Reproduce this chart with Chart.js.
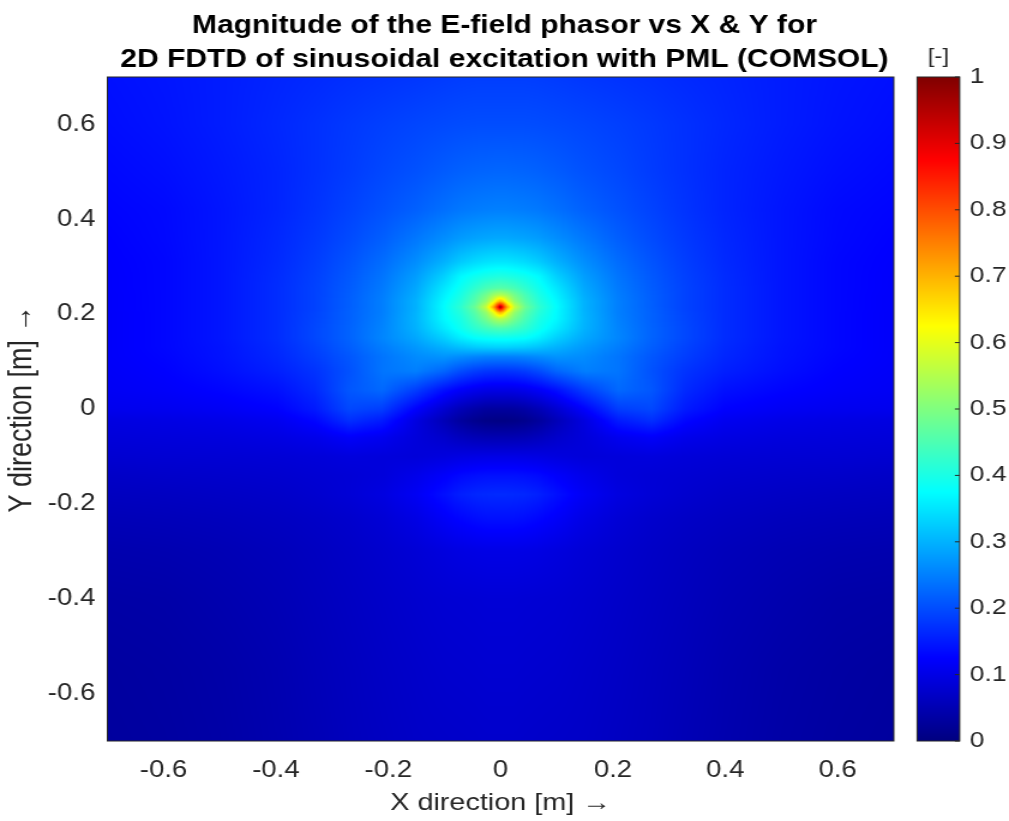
<!DOCTYPE html>
<html><head><meta charset="utf-8">
<script src="https://cdn.jsdelivr.net/npm/chart.js@4.4.1/dist/chart.umd.min.js"></script>
<style>
html,body{margin:0;padding:0;background:#fff;overflow:hidden}
#wrap{position:absolute;left:0;top:0;width:841px;height:821px;transform:scaleX(1.19976);transform-origin:0 0}
</style></head><body>
<div id="wrap"><canvas id="c"></canvas></div>
<script>
// grid node coordinates (m)
const xCoords = [-0.7,-0.6,-0.5,-0.4,-0.33,-0.27,-0.21,-0.15,-0.1,-0.07,-0.045,-0.025,-0.012,-0.005,0,0.005,0.012,0.025,0.045,0.07,0.1,0.15,0.21,0.27,0.33,0.4,0.5,0.6,0.7];
const yCoords = [0.7,0.6,0.5,0.42,0.36,0.31,0.28,0.255,0.24,0.227,0.22,0.215,0.21,0.203,0.19,0.17,0.15,0.13,0.11,0.08,0.04,0.0,-0.025,-0.06,-0.1,-0.14,-0.18,-0.23,-0.3,-0.4,-0.55,-0.7];
// |E| (normalised), one row per yCoords entry
const fieldRows = [
[0.14,0.145,0.152,0.16,0.165,0.17,0.174,0.178,0.182,0.184,0.185,0.185,0.185,0.185,0.185,0.185,0.185,0.185,0.185,0.184,0.182,0.178,0.174,0.17,0.165,0.16,0.152,0.145,0.14],
[0.137,0.143,0.152,0.163,0.172,0.18,0.187,0.193,0.197,0.199,0.2,0.2,0.2,0.2,0.2,0.2,0.2,0.2,0.2,0.199,0.197,0.193,0.187,0.18,0.172,0.163,0.152,0.143,0.137],
[0.132,0.138,0.148,0.16,0.172,0.183,0.195,0.205,0.215,0.22,0.223,0.224,0.225,0.225,0.225,0.225,0.225,0.224,0.223,0.22,0.215,0.205,0.195,0.183,0.172,0.16,0.148,0.138,0.132],
[0.128,0.133,0.145,0.16,0.175,0.19,0.205,0.22,0.235,0.243,0.247,0.249,0.25,0.25,0.25,0.25,0.25,0.249,0.247,0.243,0.235,0.22,0.205,0.19,0.175,0.16,0.145,0.133,0.128],
[0.125,0.132,0.145,0.163,0.18,0.198,0.218,0.243,0.265,0.278,0.285,0.288,0.29,0.29,0.29,0.29,0.29,0.288,0.285,0.278,0.265,0.243,0.218,0.198,0.18,0.163,0.145,0.132,0.125],
[0.123,0.13,0.145,0.165,0.185,0.207,0.232,0.265,0.3,0.325,0.34,0.347,0.35,0.35,0.35,0.35,0.35,0.347,0.34,0.325,0.3,0.265,0.232,0.207,0.185,0.165,0.145,0.13,0.123],
[0.122,0.13,0.145,0.167,0.188,0.212,0.24,0.28,0.33,0.37,0.388,0.398,0.402,0.404,0.405,0.404,0.402,0.398,0.388,0.37,0.33,0.28,0.24,0.212,0.188,0.167,0.145,0.13,0.122],
[0.122,0.13,0.145,0.168,0.19,0.215,0.245,0.29,0.352,0.388,0.42,0.445,0.455,0.458,0.46,0.458,0.455,0.445,0.42,0.388,0.352,0.29,0.245,0.215,0.19,0.168,0.145,0.13,0.122],
[0.121,0.13,0.145,0.168,0.19,0.217,0.248,0.295,0.362,0.4,0.445,0.49,0.53,0.545,0.55,0.545,0.53,0.49,0.445,0.4,0.362,0.295,0.248,0.217,0.19,0.168,0.145,0.13,0.121],
[0.121,0.13,0.145,0.168,0.19,0.218,0.25,0.3,0.37,0.41,0.46,0.52,0.6,0.67,0.7,0.67,0.6,0.52,0.46,0.41,0.37,0.3,0.25,0.218,0.19,0.168,0.145,0.13,0.121],
[0.121,0.13,0.145,0.168,0.19,0.218,0.25,0.3,0.373,0.415,0.47,0.55,0.67,0.79,0.85,0.79,0.67,0.55,0.47,0.415,0.373,0.3,0.25,0.218,0.19,0.168,0.145,0.13,0.121],
[0.121,0.13,0.145,0.168,0.19,0.218,0.25,0.3,0.375,0.42,0.48,0.57,0.72,0.85,1.0,0.85,0.72,0.57,0.48,0.42,0.375,0.3,0.25,0.218,0.19,0.168,0.145,0.13,0.121],
[0.121,0.13,0.145,0.168,0.19,0.219,0.25,0.3,0.373,0.415,0.47,0.55,0.67,0.79,0.85,0.79,0.67,0.55,0.47,0.415,0.373,0.3,0.25,0.219,0.19,0.168,0.145,0.13,0.121],
[0.12,0.13,0.145,0.168,0.192,0.22,0.25,0.302,0.372,0.41,0.46,0.52,0.6,0.67,0.7,0.67,0.6,0.52,0.46,0.41,0.372,0.302,0.25,0.22,0.192,0.168,0.145,0.13,0.12],
[0.12,0.13,0.145,0.168,0.193,0.22,0.252,0.303,0.37,0.4,0.445,0.49,0.53,0.545,0.55,0.545,0.53,0.49,0.445,0.4,0.37,0.303,0.252,0.22,0.193,0.168,0.145,0.13,0.12],
[0.12,0.13,0.145,0.168,0.195,0.222,0.255,0.3,0.355,0.388,0.418,0.437,0.447,0.45,0.45,0.45,0.447,0.437,0.418,0.388,0.355,0.3,0.255,0.222,0.195,0.168,0.145,0.13,0.12],
[0.12,0.13,0.145,0.168,0.195,0.222,0.257,0.29,0.33,0.36,0.378,0.383,0.385,0.385,0.385,0.385,0.385,0.383,0.378,0.36,0.33,0.29,0.257,0.222,0.195,0.168,0.145,0.13,0.12],
[0.12,0.13,0.143,0.165,0.19,0.217,0.248,0.275,0.3,0.315,0.325,0.328,0.33,0.33,0.33,0.33,0.33,0.328,0.325,0.315,0.3,0.275,0.248,0.217,0.19,0.165,0.143,0.13,0.12],
[0.12,0.128,0.142,0.162,0.185,0.21,0.24,0.262,0.27,0.262,0.255,0.251,0.25,0.25,0.25,0.25,0.25,0.251,0.255,0.262,0.27,0.262,0.24,0.21,0.185,0.162,0.142,0.128,0.12],
[0.118,0.125,0.138,0.155,0.175,0.205,0.24,0.25,0.225,0.2,0.185,0.178,0.176,0.175,0.175,0.175,0.176,0.178,0.185,0.2,0.225,0.25,0.24,0.205,0.175,0.155,0.138,0.125,0.118],
[0.115,0.12,0.128,0.14,0.165,0.21,0.228,0.185,0.14,0.12,0.108,0.102,0.1,0.1,0.1,0.1,0.1,0.102,0.108,0.12,0.14,0.185,0.228,0.21,0.165,0.14,0.128,0.12,0.115],
[0.108,0.11,0.115,0.125,0.15,0.195,0.185,0.125,0.08,0.055,0.04,0.032,0.03,0.03,0.03,0.03,0.03,0.032,0.04,0.055,0.08,0.125,0.185,0.195,0.15,0.125,0.115,0.11,0.108],
[0.095,0.098,0.102,0.11,0.13,0.17,0.15,0.095,0.055,0.03,0.015,0.008,0.006,0.005,0.005,0.005,0.006,0.008,0.015,0.03,0.055,0.095,0.15,0.17,0.13,0.11,0.102,0.098,0.095],
[0.088,0.09,0.092,0.097,0.105,0.12,0.11,0.09,0.075,0.062,0.054,0.051,0.05,0.05,0.05,0.05,0.05,0.051,0.054,0.062,0.075,0.09,0.11,0.12,0.105,0.097,0.092,0.09,0.088],
[0.08,0.082,0.083,0.085,0.088,0.092,0.09,0.088,0.093,0.097,0.099,0.1,0.1,0.1,0.1,0.1,0.1,0.1,0.099,0.097,0.093,0.088,0.09,0.092,0.088,0.085,0.083,0.082,0.08],
[0.07,0.073,0.075,0.078,0.082,0.085,0.09,0.105,0.122,0.133,0.138,0.14,0.14,0.14,0.14,0.14,0.14,0.14,0.138,0.133,0.122,0.105,0.09,0.085,0.082,0.078,0.075,0.073,0.07],
[0.063,0.065,0.068,0.072,0.078,0.085,0.095,0.115,0.14,0.155,0.162,0.164,0.165,0.165,0.165,0.165,0.165,0.164,0.162,0.155,0.14,0.115,0.095,0.085,0.078,0.072,0.068,0.065,0.063],
[0.055,0.057,0.06,0.065,0.07,0.076,0.085,0.1,0.12,0.13,0.137,0.14,0.14,0.14,0.14,0.14,0.14,0.14,0.137,0.13,0.12,0.1,0.085,0.076,0.07,0.065,0.06,0.057,0.055],
[0.046,0.048,0.052,0.058,0.064,0.07,0.077,0.085,0.093,0.097,0.099,0.1,0.1,0.1,0.1,0.1,0.1,0.1,0.099,0.097,0.093,0.085,0.077,0.07,0.064,0.058,0.052,0.048,0.046],
[0.038,0.04,0.046,0.053,0.06,0.066,0.072,0.078,0.082,0.083,0.084,0.085,0.085,0.085,0.085,0.085,0.085,0.085,0.084,0.083,0.082,0.078,0.072,0.066,0.06,0.053,0.046,0.04,0.038],
[0.032,0.035,0.04,0.048,0.056,0.062,0.068,0.073,0.077,0.078,0.079,0.08,0.08,0.08,0.08,0.08,0.08,0.08,0.079,0.078,0.077,0.073,0.068,0.062,0.056,0.048,0.04,0.035,0.032],
[0.03,0.033,0.038,0.046,0.053,0.06,0.065,0.07,0.072,0.073,0.074,0.075,0.075,0.075,0.075,0.075,0.075,0.075,0.074,0.073,0.072,0.07,0.065,0.06,0.053,0.046,0.038,0.033,0.03]
];
const xTicks = [-0.6,-0.4,-0.2,0,0.2,0.4,0.6];
const yTicks = [-0.6,-0.4,-0.2,0,0.2,0.4,0.6];
const cbTicks = [0,0.1,0.2,0.3,0.4,0.5,0.6,0.7,0.8,0.9,1];
const titleLines = ['Magnitude of the E-field phasor vs X & Y for','2D FDTD of sinusoidal excitation with PML (COMSOL)'];
const xLabel = 'X direction [m] \u2192';
const yLabel = 'Y direction [m] \u2192';
const cbLabel = '[-]';

const F = '"Liberation Sans", Arial, Helvetica, sans-serif';
const TXT = '#262626';

function jet(v){
  v = Math.max(0, Math.min(1, v));
  const c = t => Math.max(0, Math.min(1, t));
  return [c(Math.min(4*v-1.5, -4*v+4.5)), c(Math.min(4*v-0.5, -4*v+3.5)), c(Math.min(4*v+0.5, -4*v+2.5))];
}
function locate(arr, val, desc){
  const n = arr.length;
  for (let i = 0; i < n-1; i++){
    const a = arr[i], b = arr[i+1];
    const inside = desc ? (val <= a && val >= b) : (val >= a && val <= b);
    if (inside) return [i, (val - a) / (b - a)];
  }
  if (desc ? val > arr[0] : val < arr[0]) return [0, 0];
  return [n-2, 1];
}
const fmt = v => String(Number(Number(v).toFixed(1)));

const points = [];
yCoords.forEach((yy, j) => xCoords.forEach((xx, i) => points.push({x: xx, y: yy, v: fieldRows[j][i]})));

const heatPlugin = {
  id: 'heat',
  beforeDatasetsDraw(chart){
    const {ctx, chartArea: a, scales} = chart;
    const xs = scales.x, ys = scales.y;
    const w = Math.round(a.right - a.left), h = Math.round(a.bottom - a.top);
    const off = document.createElement('canvas'); off.width = w; off.height = h;
    const octx = off.getContext('2d'); const img = octx.createImageData(w, h);
    const ci = [], cf = [], ri = [], rf = [];
    for (let px = 0; px < w; px++){ const r = locate(xCoords, xs.getValueForPixel(a.left + px + 0.5), false); ci.push(r[0]); cf.push(r[1]); }
    for (let py = 0; py < h; py++){ const r = locate(yCoords, ys.getValueForPixel(a.top + py + 0.5), true); ri.push(r[0]); rf.push(r[1]); }
    const d = img.data;
    for (let py = 0; py < h; py++){
      const j = ri[py], fy = rf[py], r0 = fieldRows[j], r1 = fieldRows[j+1];
      for (let px = 0; px < w; px++){
        const i = ci[px], fx = cf[px];
        const top = r0[i]*(1-fx) + r0[i+1]*fx;
        const bot = r1[i]*(1-fx) + r1[i+1]*fx;
        const col = jet(top*(1-fy) + bot*fy);
        const k = (py*w + px)*4;
        d[k] = col[0]*255; d[k+1] = col[1]*255; d[k+2] = col[2]*255; d[k+3] = 255;
      }
    }
    octx.putImageData(img, 0, 0);
    ctx.save();
    ctx.drawImage(off, a.left, a.top, a.right - a.left, a.bottom - a.top);
    ctx.strokeStyle = TXT; ctx.lineWidth = 1;
    ctx.strokeRect(a.left, a.top, a.right - a.left, a.bottom - a.top);
    ctx.restore();
  },
  afterDraw(chart){
    const {ctx, chartArea: a, scales} = chart;
    const cb = scales.cb;
    const bl = a.right + 19.4, bw = 35.5;
    ctx.save();
    const t = Math.round(cb.top), b = Math.round(cb.bottom);
    for (let py = t; py < b; py++){
      const col = jet(cb.getValueForPixel(py + 0.5));
      ctx.fillStyle = `rgb(${Math.round(col[0]*255)},${Math.round(col[1]*255)},${Math.round(col[2]*255)})`;
      ctx.fillRect(bl, py, bw, 1);
    }
    ctx.strokeStyle = TXT; ctx.lineWidth = 1;
    ctx.strokeRect(bl, cb.top, bw, cb.bottom - cb.top);
    ctx.beginPath();
    cbTicks.forEach(v => { const p = cb.getPixelForValue(v); ctx.moveTo(bl + bw - 4, p); ctx.lineTo(bl + bw, p); });
    ctx.stroke();
    ctx.fillStyle = TXT; ctx.font = '20px ' + F; ctx.textAlign = 'center'; ctx.textBaseline = 'middle';
    ctx.fillText(cbLabel, bl + bw/2, 57);
    ctx.restore();
  }
};

new Chart(document.getElementById('c'), {
  type: 'scatter',
  data: { datasets: [{ data: points, pointRadius: 0, pointHoverRadius: 0, pointHitRadius: 0, showLine: false }] },
  options: {
    responsive: true, maintainAspectRatio: false, animation: false, devicePixelRatio: 1,
    layout: { padding: 0 },
    plugins: {
      legend: { display: false }, tooltip: { enabled: false },
      title: { display: true, text: titleLines, color: '#000',
        font: { size: 25, weight: 'bold', family: F, lineHeight: '33.75px' }, padding: { top: 9.5, bottom: 0 } }
    },
    scales: {
      x: { type: 'linear', min: -0.7, max: 0.7, position: 'bottom',
        afterBuildTicks: s => { s.ticks = xTicks.map(v => ({ value: v })); },
        afterFit: s => { s.height = 80; },
        grid: { display: false, drawTicks: false }, border: { display: false },
        ticks: { padding: 16, color: TXT, font: { size: 23, family: F }, maxRotation: 0, callback: v => fmt(v) },
        title: { display: true, text: xLabel, color: TXT, font: { size: 24, family: F }, padding: { top: 0, bottom: 3.6 } } },
      y: { type: 'linear', min: -0.7, max: 0.7, position: 'left',
        afterBuildTicks: s => { s.ticks = yTicks.map(v => ({ value: v })); },
        afterFit: s => { s.width = 89.5; },
        grid: { display: false, drawTicks: false }, border: { display: false },
        ticks: { padding: 10, color: TXT, font: { size: 23, family: F }, callback: v => fmt(v) },
        title: { display: true, text: yLabel, color: TXT, font: { size: 27, family: F }, padding: { top: 2.5, bottom: 0 } } },
      cb: { type: 'linear', min: 0, max: 1, position: 'right',
        afterBuildTicks: s => { s.ticks = cbTicks.map(v => ({ value: v })); },
        afterFit: s => { s.width = 96; },
        grid: { display: false, drawTicks: false }, border: { display: false },
        ticks: { padding: 63.3, color: TXT, font: { size: 22, family: F }, callback: v => fmt(v) } }
    }
  },
  plugins: [heatPlugin]
});
</script>
</body></html>
